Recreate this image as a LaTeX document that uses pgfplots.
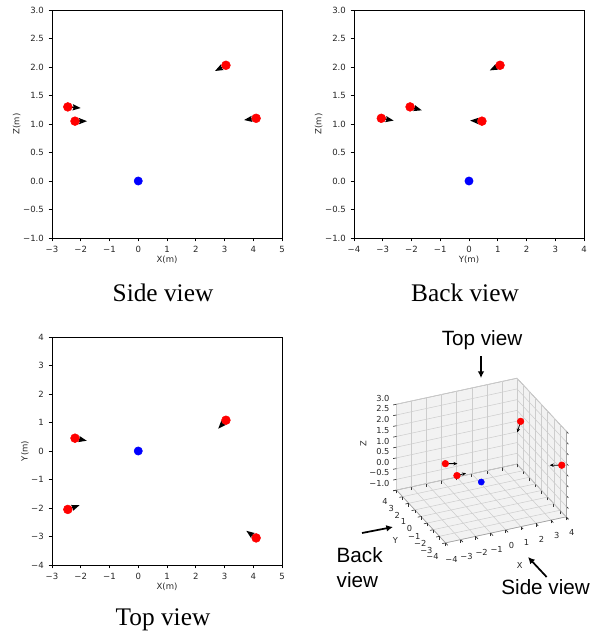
\documentclass[border=0pt]{standalone}
\usepackage{pgfplots}
\pgfplotsset{compat=1.18}
\usepackage{fontspec}
\setmainfont{DejaVu Sans}
\newfontfamily\capfont{Liberation Serif}
\newfontfamily\arialfont{Liberation Sans}
\usetikzlibrary{arrows.meta}

\pgfplotstableread{
x z u w
-2.45 1.30 0.45 -0.02
-2.20 1.05 0.42 0.00
3.05 2.03 -0.38 -0.10
4.10 1.10 -0.42 -0.03
}\sidetab
\pgfplotstableread{
y z v w
-2.05 1.30 0.41 -0.06
-3.05 1.10 0.43 -0.04
1.08 2.03 -0.36 -0.09
0.45 1.05 -0.41 0.01
}\backtab
\pgfplotstableread{
x y u v
-2.20 0.45 0.41 -0.09
-2.45 -2.05 0.41 0.15
3.05 1.08 -0.27 -0.30
4.10 -3.05 -0.34 0.25
}\toptab
\pgfplotstableread{
x y z u v w
-2.45 -2.05 1.30 0.60 0 0.02
-2.20 0.45 1.05 0.80 0 -0.12
3.05 1.08 2.03 -0.22 0 -0.48
4.10 -3.05 1.10 -0.80 0 0.12
}\threetab

\pgfplotsset{
  view2d/.style={
    width=172.5pt, height=171pt, scale only axis,
    axis line style={black, line width=0.6pt},
    tick align=outside, xtick pos=left, ytick pos=left,
    major tick length=2.6pt,
    tick style={black, line width=0.6pt},
    tick label style={font=\fontsize{6.4}{7.5}\selectfont, color=black!85},
    label style={font=\fontsize{6.4}{7.5}\selectfont, color=black!85},
    xlabel shift=-4pt, ylabel shift=-5pt,
    clip=false,
  },
  zticksY/.style={
    ytick={-1,-0.5,0,0.5,1,1.5,2,2.5,3},
    yticklabels={−1.0,−0.5,0.0,0.5,1.0,1.5,2.0,2.5,3.0},
  },
  qv/.style={black, line width=1pt, -{Stealth[length=6pt,width=4.5pt,inset=0.8pt]}},
  redpt/.style={only marks, mark=*, mark size=3.3pt, red, mark options={draw=red, fill=red}},
  bluept/.style={only marks, mark=*, mark size=3.1pt, blue, mark options={draw=blue, fill=blue}},
}

\begin{document}
\begin{tikzpicture}
\path (0,0) rectangle (450pt,-477pt);

% Side view
\begin{axis}[view2d, at={(39pt,-7.5pt)}, anchor=north west,
  xmin=-3, xmax=5, ymin=-1, ymax=3,
  xtick={-3,...,5}, xticklabels={−3,−2,−1,0,1,2,3,4,5},
  zticksY, xlabel={X(m)}, ylabel={Z(m)}]
\addplot[qv, quiver={u=\thisrow{u}, v=\thisrow{w}}] table[x=x, y=z] {\sidetab};
\addplot[redpt] table[x=x, y=z] {\sidetab};
\addplot[bluept] coordinates {(0,0)};
\end{axis}

% Back view
\begin{axis}[view2d, at={(265.5pt,-7.5pt)}, anchor=north west,
  xmin=-4, xmax=4, ymin=-1, ymax=3,
  xtick={-4,...,4}, xticklabels={−4,−3,−2,−1,0,1,2,3,4},
  zticksY, xlabel={Y(m)}, ylabel={Z(m)}]
\addplot[qv, quiver={u=\thisrow{v}, v=\thisrow{w}}] table[x=y, y=z] {\backtab};
\addplot[redpt] table[x=y, y=z] {\backtab};
\addplot[bluept] coordinates {(0,0)};
\end{axis}

% Top view
\begin{axis}[view2d, at={(39pt,-252.75pt)}, anchor=north west,
  xmin=-3, xmax=5, ymin=-4, ymax=4,
  xtick={-3,...,5}, xticklabels={−3,−2,−1,0,1,2,3,4,5},
  ytick={-4,...,4}, yticklabels={−4,−3,−2,−1,0,1,2,3,4},
  xlabel={X(m)}, ylabel={Y(m)}]
\addplot[qv, quiver={u=\thisrow{u}, v=\thisrow{v}}] table[x=x, y=y] {\toptab};
\addplot[redpt] table[x=x, y=y] {\toptab};
\addplot[bluept] coordinates {(0,0)};
\end{axis}

% 3D view
\begin{axis}[at={(297.35pt,-407.16pt)}, anchor=south west,
  x={(11.3pt,2.44pt)}, y={(-4.6pt,4.95pt)}, z={(0pt,16.1pt)},
  xmin=-4, xmax=4, ymin=-4, ymax=4, zmin=-1, zmax=3,
  clip=false,
  tick pos=left, tick align=outside, major tick length=2.5pt,
  xtick={-4,...,4}, xticklabels={−4,−3,−2,−1,0,1,2,3,4},
  ytick={-4,...,4}, yticklabels={−4,−3,−2,−1,0,1,2,3,4},
  ztick={-1,-0.5,0,0.5,1,1.5,2,2.5,3},
  zticklabels={−1.0,−0.5,0.0,0.5,1.0,1.5,2.0,2.5,3.0},
  grid=major, grid style={gray!32, line width=0.4pt},
  axis line style={gray!70, line width=0.5pt},
  tick style={black!80, line width=0.5pt},
  tick label style={font=\fontsize{6.2}{7}\selectfont, color=black!85},
  xticklabel style={yshift=-3.5pt},
  yticklabel style={yshift=-2pt, xshift=-1pt},
  label style={font=\fontsize{6.2}{7}\selectfont, color=black!85},
  ylabel style={yshift=7pt, xshift=1pt},
  zlabel style={xshift=-7pt, yshift=-6pt},
  xlabel={X}, ylabel={Y}, zlabel={Z}]
\addplot3[draw=none, fill=gray, fill opacity=0.1] coordinates {(-4,4,-1) (4,4,-1) (4,4,3) (-4,4,3) (-4,4,-1)};
\addplot3[draw=none, fill=gray, fill opacity=0.1] coordinates {(4,-4,-1) (4,4,-1) (4,4,3) (4,-4,3) (4,-4,-1)};
\addplot3[draw=none, fill=gray, fill opacity=0.1] coordinates {(-4,-4,-1) (4,-4,-1) (4,4,-1) (-4,4,-1) (-4,-4,-1)};
\addplot3[black, line width=0.6pt, -{Stealth[length=3pt,width=2.6pt]}, quiver={u=\thisrow{u}, v=\thisrow{v}, w=\thisrow{w}}] table[x=x, y=y, z=z] {\threetab};
\addplot3[only marks, mark=*, mark size=2.5pt, red] table[x=x, y=y, z=z] {\threetab};
\addplot3[only marks, mark=*, mark size=2.3pt, blue] coordinates {(0,0,0)};
\end{axis}

% captions
\node[font=\capfont\fontsize{19}{22}\selectfont] at (122.25pt,-219.75pt) {Side view};
\node[font=\capfont\fontsize{19}{22}\selectfont] at (348.75pt,-219.75pt) {Back view};
\node[font=\capfont\fontsize{19}{22}\selectfont] at (122.25pt,-465pt) {Top view};

% 3D annotations
\node[font=\arialfont\fontsize{15.5}{18}\selectfont] at (361.5pt,-255pt) {Top view};
\draw[-{Latex[length=5pt,width=5pt]}, line width=1.3pt] (360.75pt,-267pt) -- (360.75pt,-283.5pt);
\node[font=\arialfont\fontsize{15.5}{18}\selectfont, anchor=west] at (249pt,-416pt) {Back};
\node[font=\arialfont\fontsize{15.5}{18}\selectfont, anchor=west] at (249pt,-435pt) {view};
\draw[-{Latex[length=5pt,width=5pt]}, line width=1.3pt] (271.5pt,-399.75pt) -- (294.75pt,-395.25pt);
\node[font=\arialfont\fontsize{15.5}{18}\selectfont, anchor=west] at (372.5pt,-440pt) {Side view};
\draw[-{Latex[length=5pt,width=5pt]}, line width=1.3pt] (410pt,-432.75pt) -- (396pt,-417.75pt);
\end{tikzpicture}
\end{document}
